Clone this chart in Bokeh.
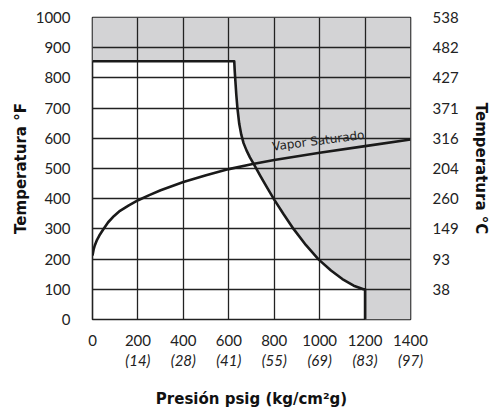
import math
from bokeh.plotting import figure
from bokeh.models import LinearAxis, FixedTicker, Range1d
from bokeh.core.properties import value
from bokeh.embed import file_html
from bokeh.resources import INLINE

# ---- data ----
x_ticks = [0, 200, 400, 600, 800, 1000, 1200, 1400]
x_kg_labels = ["", "(14)", "(28)", "(41)", "(55)", "(69)", "(83)", "(97)"]
y_ticks = [0, 100, 200, 300, 400, 500, 600, 700, 800, 900, 1000]
y_c_ticks = [100, 200, 300, 400, 500, 600, 700, 800, 900, 1000]
y_c_labels = ["38", "93", "149", "260", "204", "316", "371", "427", "482", "538"]

# saturated vapor curve (psig, °F)
sat_p = [0, 5, 10, 20, 30, 47, 69, 95, 121, 160, 201, 250, 300, 400, 500, 600, 700, 800, 1000, 1200, 1400]
sat_t = [212, 232, 245, 264, 278, 298, 322, 343, 360, 378, 395, 412, 428, 455, 478, 498, 514, 528, 552, 574, 596]

# limit curve (psig, °F)
lim_p = [0, 624, 626, 629, 633, 638, 646, 655, 665, 678, 693, 709, 740, 770, 800, 840, 885, 940, 995, 1050, 1100, 1150, 1193, 1200, 1200]
lim_t = [855, 855, 825, 790, 745, 700, 648, 612, 584, 560, 537, 516, 474, 435, 397, 350, 300, 246, 199, 162, 134, 112, 100, 100, 0]

FONT = "Lato"
TITLE_FONT = "DejaVu Sans"

p = figure(width=494, height=410, output_backend="svg", toolbar_location=None,
           x_range=Range1d(0, 1400), y_range=Range1d(0, 1000),
           min_border_left=92, min_border_right=84, min_border_top=17, min_border_bottom=91)

# shaded region (above/right of the limit curve)
shade_x = [0, 1400, 1400] + lim_p[::-1]
shade_y = [1000, 1000, 0] + lim_t[::-1]
shade = p.patch(shade_x, shade_y, fill_color="#d3d3d5", line_color=None)
shade.level = "image"

p.line(sat_p, sat_t, line_color="#1a1a1a", line_width=2.6, line_join="round")
p.line(lim_p, lim_t, line_color="#1a1a1a", line_width=2.6, line_join="round")

p.text(x=[791], y=[572], text=["Vapor Saturado"], angle=math.radians(7.3),
       text_font=value("DejaVu Sans"), text_font_size="12px", text_color="#222222",
       text_align="left", text_baseline="alphabetic")

p.outline_line_color = "#222222"
p.outline_line_width = 1.6

# grids
for g in (p.xgrid, p.ygrid):
    g.grid_line_color = "#222222"
    g.grid_line_width = 1.3
    g.grid_line_alpha = 1.0
p.xgrid.ticker = FixedTicker(ticks=x_ticks)
p.ygrid.ticker = FixedTicker(ticks=y_ticks)

def style_axis(ax, size="15px"):
    ax.axis_line_color = None
    ax.major_tick_line_color = None
    ax.minor_tick_line_color = None
    ax.major_tick_out = 0
    ax.major_tick_in = 0
    ax.major_label_text_font = FONT
    ax.major_label_text_font_size = size
    ax.major_label_text_color = "#222222"
    ax.axis_label_text_font = TITLE_FONT
    ax.axis_label_text_font_style = "bold"
    ax.axis_label_text_font_size = "15px"
    ax.axis_label_text_color = "#111111"

# bottom psig axis
xa = p.xaxis[0]
xa.ticker = FixedTicker(ticks=x_ticks)
style_axis(xa)
xa.major_label_standoff = 15

# bottom kg/cm2 axis
xa2 = LinearAxis(ticker=FixedTicker(ticks=x_ticks),
                 major_label_overrides={t: l for t, l in zip(x_ticks, x_kg_labels)})
style_axis(xa2)
xa2.major_label_text_font_style = "italic"
xa2.major_label_standoff = 2
xa2.axis_label = "Presión psig (kg/cm²g)"
xa2.axis_label_standoff = 18
p.add_layout(xa2, "below")

# left °F axis
ya = p.yaxis[0]
ya.ticker = FixedTicker(ticks=y_ticks)
style_axis(ya)
ya.major_label_standoff = 22
ya.axis_label = "Temperatura °F"
ya.axis_label_standoff = 3

# right °C axis
ya2 = LinearAxis(ticker=FixedTicker(ticks=y_c_ticks),
                 major_label_overrides={t: l for t, l in zip(y_c_ticks, y_c_labels)})
style_axis(ya2)
ya2.major_label_standoff = 22
ya2.axis_label = "Temperatura °C"
ya2.axis_label_standoff = 10
p.add_layout(ya2, "right")

open("out.html", "w").write(file_html(p, INLINE))
